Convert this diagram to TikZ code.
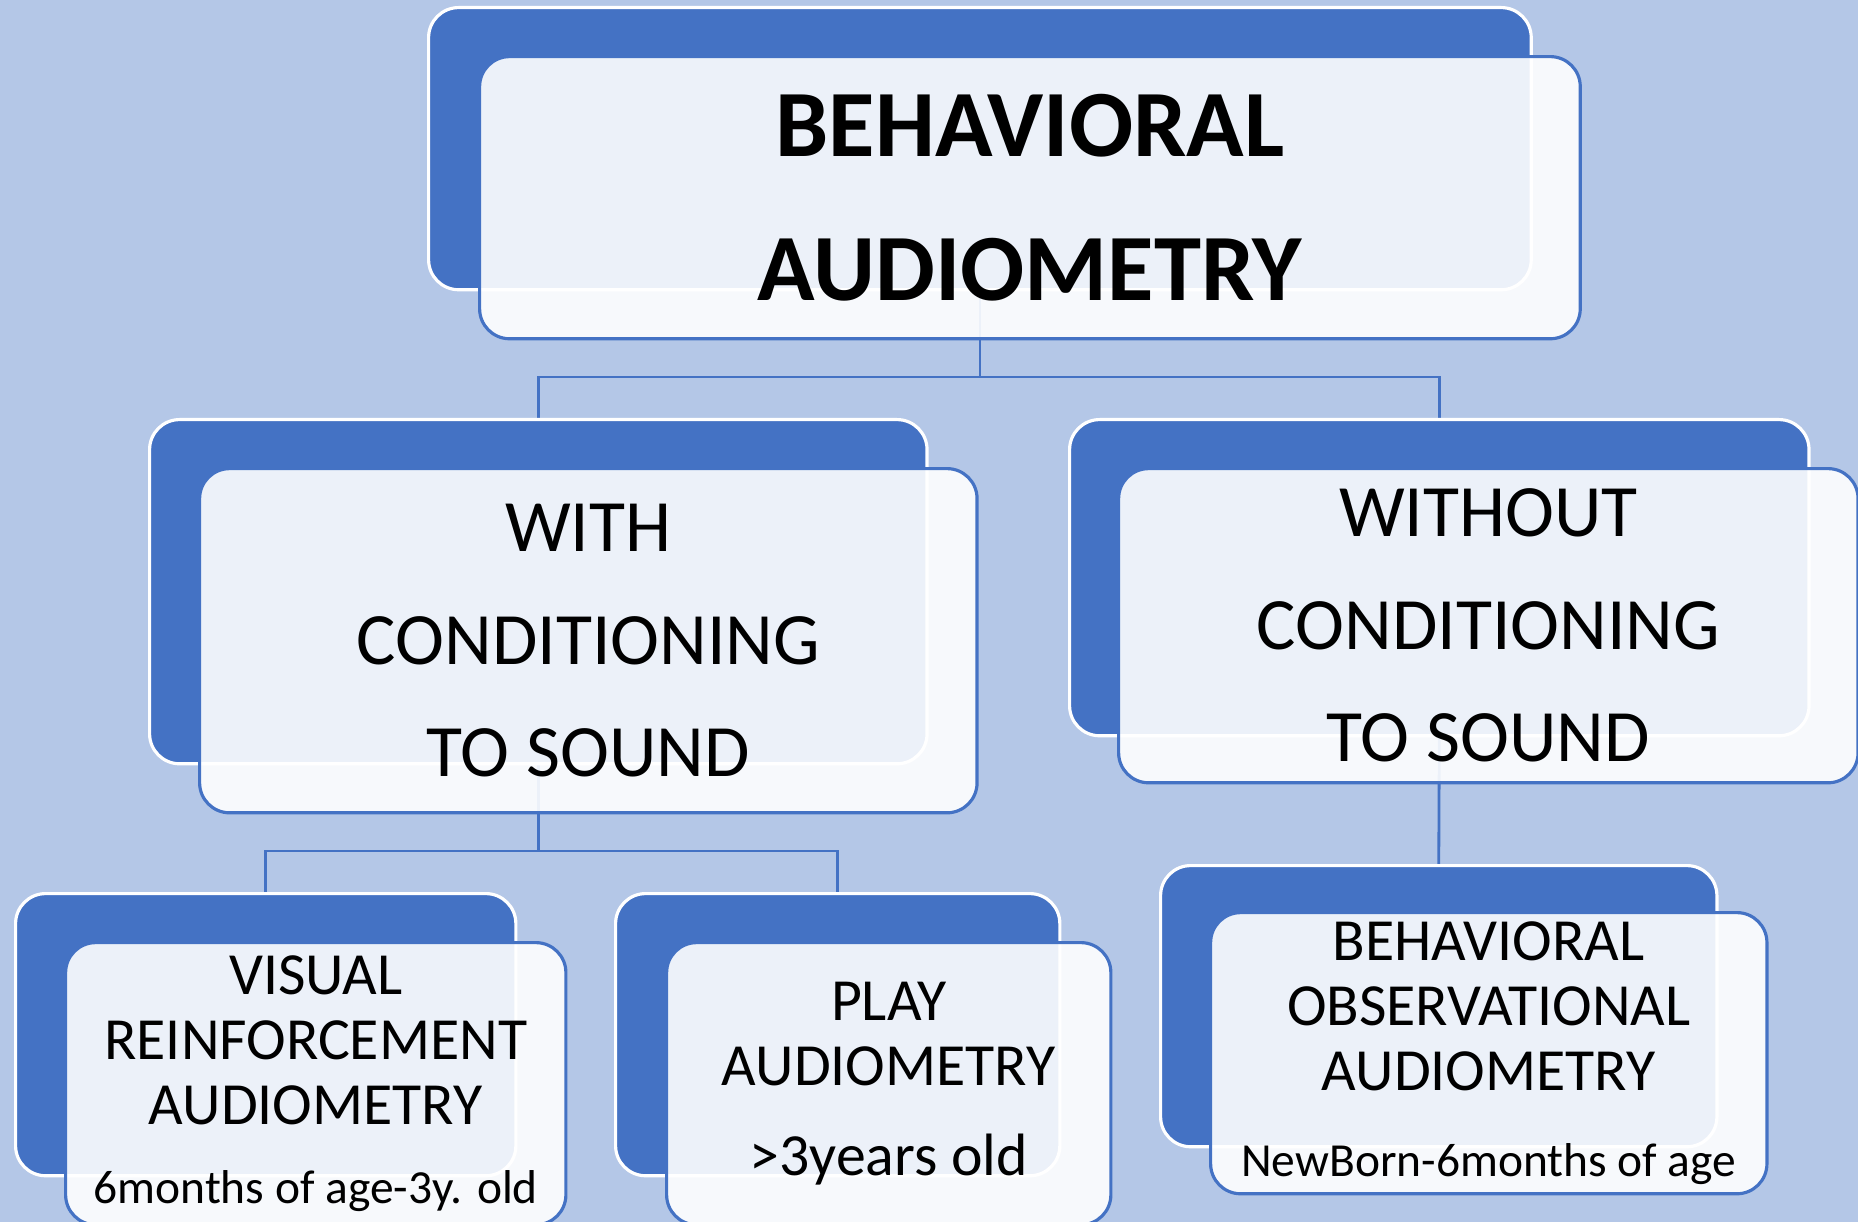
\documentclass[tikz,border=0pt]{standalone}
\usepackage{fontspec}
\setmainfont{Carlito}
\usetikzlibrary{positioning}
\definecolor{accentblue}{HTML}{4472C4}
\definecolor{paleblue}{HTML}{B4C7E7}
\newcommand{\agesize}{\fontsize{13.5}{16}\selectfont}
\pgfdeclarelayer{bglayer}
\pgfdeclarelayer{connlayer}
\pgfsetlayers{bglayer,connlayer,main}
\tikzset{
  backbox/.style={draw=white, line width=0.9pt, fill=accentblue, rounded corners=0.3cm, anchor=north west, inner sep=0pt},
  frontbox/.style={draw=accentblue, line width=0.9pt, fill=white, fill opacity=0.9, text opacity=1, rounded corners=0.3cm, inner sep=0pt, align=center},
  conn/.style={draw=accentblue, line width=0.8pt},
  bigtext/.style={font=\fontsize{27}{41}\selectfont\bfseries},
  midtext/.style={font=\fontsize{21}{32}\selectfont},
  smalltext/.style={font=\fontsize{17}{18.5}\selectfont}
}
\begin{document}
\begin{tikzpicture}[x=0.01cm, y=-0.01cm]

    % canvas
    \useasboundingbox (0,0) rectangle (1858,1222);
    \begin{pgfonlayer}{bglayer}
        \fill[paleblue] (0,0) rectangle (1858,1222);
    \end{pgfonlayer}

    % top level
    \node[backbox, minimum width=11.02cm, minimum height=2.82cm] (topback) at (427,6) {};
    \node[frontbox, bigtext, minimum width=11cm, minimum height=2.82cm,
          below right=0.49cm and 0.51cm of topback.north west] (topfront) {BEHAVIORAL\\AUDIOMETRY};

    % second level
    \node[backbox, minimum width=7.77cm, minimum height=3.44cm] (wcback) at (148,418) {};
    \node[frontbox, midtext, minimum width=7.77cm, minimum height=3.44cm,
          below right=0.49cm and 0.5cm of wcback.north west] (wcfront) {WITH\\CONDITIONING\\TO SOUND};

    \node[backbox, minimum width=7.39cm, minimum height=3.16cm] (wocback) at (1068,418) {};
    \node[frontbox, midtext, minimum width=7.39cm, minimum height=3.14cm,
          below right=0.49cm and 0.49cm of wocback.north west] (wocfront) {WITHOUT\\CONDITIONING\\TO SOUND};

    % third level
    \node[backbox, minimum width=5cm, minimum height=2.82cm] (vraback) at (14,892) {};
    \node[frontbox, smalltext, minimum width=5cm, minimum height=2.82cm,
          below right=0.49cm and 0.5cm of vraback.north west] (vrafront) {VISUAL\\REINFORCEMENT\\AUDIOMETRY\\[4pt]{\agesize 6months of age-3y. old}};

    \node[backbox, minimum width=4.44cm, minimum height=2.82cm] (playback) at (614,892) {};
    \node[frontbox, smalltext, minimum width=4.44cm, minimum height=2.82cm,
          below right=0.49cm and 0.51cm of playback.north west] (playfront) {PLAY\\AUDIOMETRY\\[7pt]>3years old};

    \node[backbox, minimum width=5.56cm, minimum height=2.81cm] (boaback) at (1159,864) {};
    \node[frontbox, smalltext, minimum width=5.56cm, minimum height=2.81cm,
          below right=0.47cm and 0.5cm of boaback.north west] (boafront) {BEHAVIORAL\\OBSERVATIONAL\\AUDIOMETRY\\[6pt]{\agesize NewBorn-6months of age}};

    % connectors
    \coordinate (busa) at (0,377);
    \coordinate (busb) at (0,851);
    \begin{pgfonlayer}{connlayer}
        \draw[conn] (topback.south) -- (topback.south |- busa) -| (wcback.north);
        \draw[conn] (topback.south |- busa) -| (wocback.north);
        \draw[conn] (wcback.south) -- (wcback.south |- busb) -| (vraback.north);
        \draw[conn] (wcback.south |- busb) -| (playback.north);
        \draw[conn] (wocback.south) -- (boaback.north);
    \end{pgfonlayer}
\end{tikzpicture}
\end{document}
